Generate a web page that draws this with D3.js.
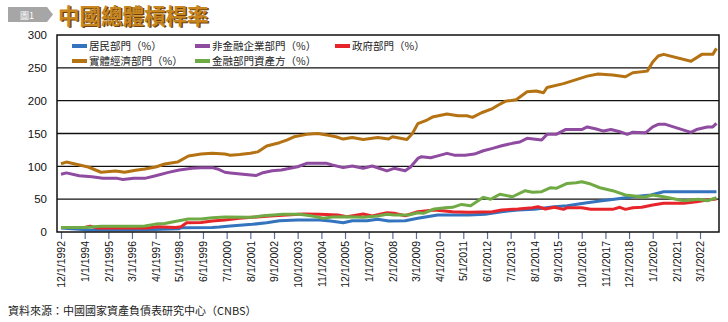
<!DOCTYPE html>
<html>
<head>
<meta charset="utf-8">
<script src="https://cdn.jsdelivr.net/npm/d3@7"></script>
<style>
  body { margin: 0; background: #fff; }
  text { font-family: "Liberation Sans", Arial, sans-serif; }
  .cjk { font-family: "Noto Sans CJK TC", "Noto Sans CJK SC", sans-serif; }
</style>
</head>
<body>
<div id="container"></div>
<script>
let w = 728;
let h = 322;

// tick labels along the bottom (every 13 months)
let tickLabels = ["12/1/1992","1/1/1994","2/1/1995","3/1/1996","4/1/1997","5/1/1998","6/1/1999",
  "7/1/2000","8/1/2001","9/1/2002","10/1/2003","11/1/2004","12/1/2005","1/1/2007","2/1/2008",
  "3/1/2009","4/1/2010","5/1/2011","6/1/2012","7/1/2013","8/1/2014","9/1/2015","10/1/2016",
  "11/1/2017","12/1/2018","1/1/2020","2/1/2021","3/1/2022"];
let yTicks = [0, 50, 100, 150, 200, 250, 300];

// series, [month, %]
let household = [["1992-12",6],["1993-10",4],["1994-03",3],["1996-11",3.5],["1998-05",5],["1998-06",6.5],
  ["1999-11",7],["2000-03",7.5],["2000-09",9],["2001-09",11.7],["2002-05",14],["2002-12",17],["2003-10",18.3],
  ["2004-10",18.3],["2005-04",16.7],["2005-11",14],["2006-04",17],["2006-12",17],["2007-06",19.3],["2007-12",16.7],
  ["2008-09",17.2],["2009-04",20.9],["2010-03",25.9],["2011-08",25.9],["2012-05",27],["2013-02",30.9],
  ["2013-11",33.5],["2014-08",34.5],["2015-07",38.5],["2016-02",40],["2016-11",43.7],["2017-08",47.2],
  ["2018-05",50.2],["2019-02",53.7],["2019-12",56.3],["2020-07",61.3],["2022-12",61.3]];

let nonfinancial = [["1992-12",88],["1993-03",90],["1993-10",85.7],["1994-05",84],["1994-11",81.7],["1995-07",81.7],
  ["1995-10",80],["1996-04",82],["1996-10",81.7],["1997-04",85.7],["1997-11",90.8],["1998-05",94.4],["1998-12",97],
  ["1999-05",98],["1999-11",98],["2000-02",96],["2000-06",91],["2000-09",90],["2001-04",88],["2001-11",86],
  ["2002-03",90.3],["2002-08",93.3],["2003-01",94.4],["2003-10",99.4],["2004-03",104.6],["2005-02",104.6],
  ["2005-05",102],["2005-11",98],["2006-04",100.5],["2006-10",97],["2007-03",100.5],["2007-11",93],["2008-03",97],
  ["2008-09",93.3],["2008-12",99],["2009-04",112],["2009-06",114.7],["2009-11",113],["2010-03",116],["2010-08",119.8],
  ["2010-12",117],["2011-06",117],["2011-11",118.7],["2012-04",123.7],["2012-09",127.4],["2013-02",131.4],
  ["2013-08",135],["2013-12",137],["2014-04",142.6],["2014-12",140],["2015-03",148.7],["2015-08",148.7],
  ["2016-01",156],["2016-10",156],["2017-01",160],["2017-06",156.8],["2017-10",153.7],["2018-02",156],
  ["2018-07",152.7],["2018-11",148.7],["2019-02",152],["2019-09",151],["2020-01",160],["2020-04",164],
  ["2020-08",164],["2021-10",151.7],["2022-01",156],["2022-07",160],["2022-10",160],["2022-12",165.5]];

let government = [["1992-12",7],["1994-01",7],["1994-04",9],["1994-08",6],["1996-11",6],["1997-02",7],["1997-05",8],
  ["1998-03",7],["1998-06",8],["1998-09",14],["1999-05",14.5],["1999-11",16.7],["2000-06",18.3],["2001-02",20.9],
  ["2001-09",22.4],["2002-07",24.4],["2003-04",25.9],["2004-01",27.4],["2004-10",27],["2005-08",25.9],
  ["2006-01",23.3],["2006-10",27.4],["2007-03",24.4],["2007-11",29.4],["2008-03",28.5],["2008-09",24.8],
  ["2009-04",30.9],["2010-01",33.5],["2010-11",30.9],["2011-08",30],["2012-09",30.9],["2013-02",33.5],
  ["2013-11",35],["2014-07",37],["2014-10",38.5],["2015-02",35],["2015-07",37.6],["2015-12",34.5],["2016-02",37],
  ["2016-10",37],["2017-03",34.5],["2018-03",34.5],["2018-07",37.6],["2018-10",34.5],["2019-02",37],
  ["2019-07",37.6],["2020-01",41],["2020-07",43.7],["2021-06",43.7],["2022-01",46],["2022-07",48.7],["2022-12",50.2]];

let realEconomy = [["1992-12",104],["1993-03",106.5],["1994-03",99],["1994-10",91],["1995-06",93],["1995-11",91],
  ["1996-05",94],["1996-10",96],["1997-04",99],["1997-09",103.5],["1998-04",106.5],["1998-10",115.7],["1999-05",118.7],
  ["1999-11",120],["2000-06",118.7],["2000-09",117],["2001-02",118],["2001-08",120],["2001-12",122],["2002-05",131],
  ["2002-12",136],["2003-04",140],["2003-08",145],["2004-03",148.7],["2004-09",150],["2005-02",147.6],["2005-07",145],
  ["2005-11",141.5],["2006-04",144],["2006-10",141],["2007-06",144],["2007-12",141.5],["2008-02",145],["2008-10",141],
  ["2009-01",150],["2009-04",165],["2009-09",170.5],["2009-12",175],["2010-08",179.6],["2011-02",177],["2011-07",177],
  ["2011-10",174.6],["2012-03",181.6],["2012-09",188],["2012-12",193],["2013-04",199],["2013-10",201.5],
  ["2014-04",213.5],["2014-09",214.6],["2015-01",212],["2015-03",220],["2015-12",226],["2016-07",232],
  ["2017-01",237.4],["2017-07",240.5],["2018-03",239],["2018-10",236.4],["2019-02",242.5],["2019-10",245],
  ["2020-01",259],["2020-04",268],["2020-07",270.5],["2021-10",260],["2022-04",270.5],["2022-10",270.5],["2022-12",279.6]];

let financial = [["1992-12",7],["1994-01",7],["1994-10",8.7],["1996-05",8.7],["1996-10",9],["1997-04",12],["1997-09",13],
  ["1998-04",16.7],["1998-10",19.8],["1999-05",19.8],["1999-11",21.8],["2000-06",23],["2001-09",22.4],["2002-03",24.8],
  ["2003-02",27],["2003-11",27],["2004-06",24.4],["2004-12",21],["2005-05",22.8],["2006-01",23.3],["2006-10",22.4],
  ["2007-06",24.4],["2007-11",27],["2008-03",25.9],["2008-11",25.9],["2009-04",29.4],["2009-07",28.5],["2010-01",35],
  ["2010-07",37],["2010-11",37.6],["2011-04",42],["2011-09",40],["2012-04",52.8],["2012-08",49.8],["2013-01",57.4],
  ["2013-08",53.7],["2014-03",62.9],["2014-07",60.4],["2014-12",61.3],["2015-05",67.4],["2015-08",66.5],["2016-02",74],
  ["2016-07",75],["2016-10",76.6],["2017-03",73],["2017-08",67.4],["2018-03",62.9],["2018-10",56.3],["2019-03",54.8],
  ["2019-08",52.8],["2020-01",56.3],["2020-07",53.7],["2021-06",47.6],["2022-02",49.8],["2022-07",47.6],["2022-12",52.2]];

// legend rows, drawing order = legend order
let series = [
  { name: "居民部門（%）", values: household, color: "#3473bd", lx: 72, ly: 46 },
  { name: "非金融企業部門（%）", values: nonfinancial, color: "#8f4b9f", lx: 195, ly: 46 },
  { name: "政府部門（%）", values: government, color: "#e8242b", lx: 335, ly: 46 },
  { name: "實體經濟部門（%）", values: realEconomy, color: "#b47212", lx: 72, ly: 61 },
  { name: "金融部門資產方（%）", values: financial, color: "#70aa45", lx: 195, ly: 61 }
];

let parseTick = d3.timeParse("%m/%d/%Y");
let parseMonth = d3.timeParse("%Y-%m");

let viz = d3.select("#container")
  .append("svg")
    .attr("width", w)
    .attr("height", h)
    .style("background-color", "white");

// plot box
let plotLeft = 57, plotRight = 719, plotTop = 35, plotBottom = 232;

let xScale = d3.scaleTime()
  .domain([parseTick(tickLabels[0]), parseTick(tickLabels[tickLabels.length - 1])])
  .range([61, 700]);
let yScale = d3.scaleLinear().domain([0, 300]).range([plotBottom, plotTop]);

// header badge + title
viz.append("path")
  .attr("d", "M8,7 L47,7 L53,14.5 L47,22 L8,22 Z")
  .attr("fill", "#a6a6a6");
viz.append("text").attr("class", "cjk")
  .attr("x", 27).attr("y", 18.5)
  .attr("text-anchor", "middle")
  .attr("font-size", 9).attr("fill", "white")
  .text("圖1");
viz.append("text").attr("class", "cjk")
  .attr("x", 59.5).attr("y", 24.5)
  .attr("font-size", 21.5).attr("font-weight", "bold")
  .attr("fill", "#6e4208")
  .text("中國總體槓桿率");
viz.append("text").attr("class", "cjk")
  .attr("x", 58).attr("y", 23.5)
  .attr("font-size", 21.5).attr("font-weight", "bold")
  .attr("fill", "#c7861f")
  .text("中國總體槓桿率");

// y axis
let yAxis = d3.axisLeft(yScale).tickValues(yTicks).tickSize(0).tickPadding(10);
let yAxisGroup = viz.append("g").attr("class", "yaxis")
  .attr("transform", "translate(" + plotLeft + ",0)")
  .call(yAxis);
yAxisGroup.select(".domain").remove();
yAxisGroup.selectAll("text")
  .attr("font-size", 11.5)
  .attr("font-family", "Liberation Sans, Arial, sans-serif")
  .attr("fill", "#111");

// gridlines
viz.append("g").attr("class", "grid")
  .selectAll("line").data(yTicks.filter(function(d){ return d > 0 && d < 300; }))
  .enter().append("line")
    .attr("x1", plotLeft).attr("x2", plotRight)
    .attr("y1", function(d){ return yScale(d); })
    .attr("y2", function(d){ return yScale(d); })
    .attr("stroke", "#111").attr("stroke-width", 1.4);

// x axis
let xAxis = d3.axisBottom(xScale)
  .tickValues(tickLabels.map(parseTick))
  .tickFormat(function(d, i){ return tickLabels[i]; })
  .tickSizeInner(7).tickSizeOuter(0);
let xAxisGroup = viz.append("g").attr("class", "xaxis")
  .attr("transform", "translate(0," + plotBottom + ")")
  .call(xAxis);
xAxisGroup.select(".domain").remove();
xAxisGroup.selectAll(".tick line").attr("stroke", "#5a6d9a").attr("stroke-width", 1.2);
xAxisGroup.selectAll("text")
  .attr("transform", "rotate(-90)")
  .attr("text-anchor", "end")
  .attr("x", -9).attr("y", 0).attr("dy", "0.35em")
  .attr("font-size", 10.5)
  .attr("font-family", "Liberation Sans, Arial, sans-serif")
  .attr("fill", "#111");

// series lines
let line = d3.line()
  .x(function(d){ return xScale(parseMonth(d[0])); })
  .y(function(d){ return yScale(d[1]); });

viz.append("g").attr("class", "lines")
  .selectAll("path").data(series)
  .enter().append("path")
    .attr("d", function(d){ return line(d.values); })
    .attr("fill", "none")
    .attr("stroke", function(d){ return d.color; })
    .attr("stroke-width", 3)
    .attr("stroke-linejoin", "round");

// frame on top
viz.append("rect")
  .attr("x", plotLeft).attr("y", plotTop)
  .attr("width", plotRight - plotLeft).attr("height", plotBottom - plotTop)
  .attr("fill", "none").attr("stroke", "#111").attr("stroke-width", 1.5);

// legend
let legend = viz.append("g").attr("class", "legend")
  .selectAll("g").data(series)
  .enter().append("g")
    .attr("transform", function(d){ return "translate(" + d.lx + "," + d.ly + ")"; });
legend.append("rect")
  .attr("x", 0).attr("y", -2).attr("width", 15).attr("height", 4)
  .attr("fill", function(d){ return d.color; });
legend.append("text").attr("class", "cjk")
  .attr("x", 17).attr("y", 0).attr("dy", "0.36em")
  .attr("font-size", 10.5).attr("fill", "#222")
  .text(function(d){ return d.name; });

// source note
viz.append("text").attr("class", "cjk")
  .attr("x", 8).attr("y", 315)
  .attr("font-size", 11).attr("fill", "#222")
  .text("資料來源：中國國家資產負債表研究中心（CNBS）");
</script>
</body>
</html>
